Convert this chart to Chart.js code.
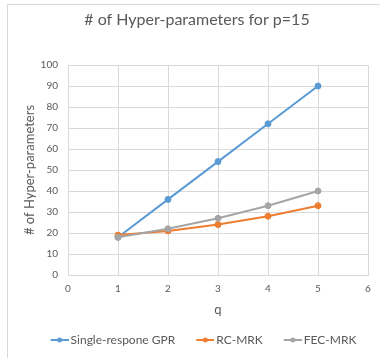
<!DOCTYPE html>
<html>
<head>
<meta charset="utf-8">
<script src="https://cdn.jsdelivr.net/npm/chart.js@4"></script>
<style>
html,body{margin:0;padding:0;background:#fff;}
#wrap{position:relative;width:380px;height:358px;}
</style>
</head>
<body>
<div id="wrap"><canvas id="c" width="380" height="358"></canvas></div>
<script>
// ---- data ----
const qValues = [1, 2, 3, 4, 5];
const gprValues = [18, 36, 54, 72, 90];
const rcValues = [19, 21, 24, 28, 33];
const fecValues = [18, 22, 27, 33, 40];
const seriesNames = ['Single-respone GPR', 'RC-MRK', 'FEC-MRK'];
const chartTitle = '# of Hyper-parameters for p=15';
const yTitle = '# of Hyper-parameters';
const xTitle = 'q';

const colors = ['#5B9BD5', '#ED7D31', '#A5A5A5'];
const FONT = 'Lato, "Open Sans", sans-serif';

function toPoints(ys) { return qValues.map((x, i) => ({x: x, y: ys[i]})); }

function legendIcon(color) {
  const cv = document.createElement('canvas');
  cv.width = 33; cv.height = 8;
  const g = cv.getContext('2d');
  g.strokeStyle = color; g.lineWidth = 2;
  g.beginPath(); g.moveTo(15, 4); g.lineTo(33, 4); g.stroke();
  g.fillStyle = color;
  g.beginPath(); g.arc(24, 4, 2.5, 0, Math.PI * 2); g.fill();
  return cv;
}
const icons = colors.map(legendIcon);

const framePlugin = {
  id: 'frame',
  beforeDraw(chart) {
    const ctx = chart.ctx;
    ctx.save();
    ctx.strokeStyle = '#D9D9D9';
    ctx.lineWidth = 1;
    ctx.beginPath();
    ctx.moveTo(7.5, 358); ctx.lineTo(7.5, 4.5); ctx.lineTo(380, 4.5);
    ctx.stroke();
    ctx.restore();
  },
  afterLayout(chart) {
    const lg = chart.legend;
    if (lg) { lg.left += 14; lg.right += 14; }
    const tb = chart.titleBlock;
    if (tb) { tb.left += 13; tb.right += 13; }
  }
};

Chart.defaults.color = '#595959';
Chart.defaults.font.family = FONT;

const datasets = [gprValues, rcValues, fecValues].map((vals, i) => ({
  label: seriesNames[i],
  data: toPoints(vals),
  borderColor: colors[i],
  backgroundColor: colors[i],
  borderWidth: 2,
  pointRadius: 3,
  pointBorderWidth: 1,
  pointBackgroundColor: colors[i],
  pointBorderColor: colors[i],
  tension: 0,
  order: 2 - i
}));

new Chart(document.getElementById('c'), {
  type: 'line',
  data: { datasets: datasets },
  plugins: [framePlugin],
  options: {
    responsive: false,
    animation: false,
    devicePixelRatio: 1,
    layout: { padding: { left: 0, right: 12, top: 0, bottom: 2 } },
    plugins: {
      title: {
        display: true,
        text: chartTitle,
        color: '#595959',
        font: { size: 16, weight: 'normal', family: FONT },
        padding: { top: 10, bottom: 35.8 }
      },
      legend: {
        position: 'bottom',
        labels: {
          usePointStyle: true,
          pointStyleWidth: 25,
          padding: 10,
          color: '#595959',
          font: { size: 12, family: FONT },
          sort: (a, b) => a.datasetIndex - b.datasetIndex,
          generateLabels(chart) {
            const items = Chart.defaults.plugins.legend.labels.generateLabels(chart);
            items.forEach(it => { it.pointStyle = icons[it.datasetIndex]; });
            return items;
          }
        }
      },
      tooltip: { enabled: false }
    },
    scales: {
      x: {
        type: 'linear',
        min: 0, max: 6,
        ticks: { stepSize: 1, padding: 8, font: { size: 10 }, color: '#595959' },
        grid: { color: '#D9D9D9', drawTicks: false },
        border: { color: '#D9D9D9' },
        title: { display: true, text: xTitle, color: '#595959', font: { size: 13 }, padding: { top: 0, bottom: 6 } },
        afterFit(s) { s.height = 49; }
      },
      y: {
        min: 0, max: 100,
        ticks: { stepSize: 10, padding: 10, font: { size: 10 }, color: '#595959' },
        grid: { color: '#D9D9D9', drawTicks: false },
        border: { color: '#D9D9D9' },
        title: { display: true, text: yTitle, color: '#595959', font: { size: 13 }, padding: { top: 22, bottom: 0 } },
        afterFit(s) { s.width = 68; }
      }
    }
  }
});
</script>
</body>
</html>
